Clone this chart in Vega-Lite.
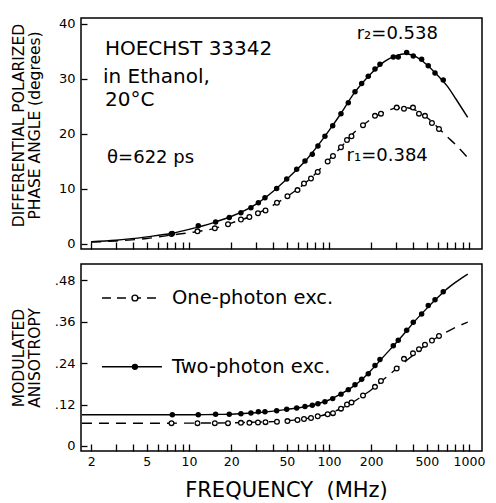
{
  "$schema": "https://vega.github.io/schema/vega-lite/v6.json",
  "background": "white",
  "padding": {"left": 10, "top": 17, "right": 6, "bottom": 2},
  "spacing": 11,
  "config": {
    "view": {"stroke": "black", "strokeWidth": 1.5},
    "font": "DejaVu Sans",
    "axis": {
      "grid": false,
      "domain": false,
      "offset": -7,
      "tickSize": 7,
      "tickColor": "black",
      "tickWidth": 1.3,
      "labelColor": "black",
      "titleColor": "black",
      "labelFont": "DejaVu Sans",
      "titleFont": "DejaVu Sans",
      "titleFontWeight": "normal",
      "labelOverlap": false
    }
  },
  "datasets": {
    "curves": [
      {"s": "two", "f": 1.72, "ph": null, "an": 0.0905},
      {"s": "two", "f": 2, "ph": 0.42, "an": 0.0905},
      {"s": "two", "f": 3, "ph": 0.68, "an": 0.0905},
      {"s": "two", "f": 5, "ph": 1.3, "an": 0.0903},
      {"s": "two", "f": 7.6, "ph": 1.95, "an": 0.0902},
      {"s": "two", "f": 10, "ph": 2.65, "an": 0.0902},
      {"s": "two", "f": 15, "ph": 3.9, "an": 0.0912},
      {"s": "two", "f": 20, "ph": 5.0, "an": 0.092},
      {"s": "two", "f": 30, "ph": 7.2, "an": 0.096},
      {"s": "two", "f": 40, "ph": 9.6, "an": 0.101},
      {"s": "two", "f": 50, "ph": 11.8, "an": 0.106},
      {"s": "two", "f": 70, "ph": 15.5, "an": 0.115},
      {"s": "two", "f": 100, "ph": 20.6, "an": 0.133},
      {"s": "two", "f": 120, "ph": 23.5, "an": 0.149},
      {"s": "two", "f": 150, "ph": 27.3, "an": 0.173},
      {"s": "two", "f": 175, "ph": 29.4, "an": 0.195},
      {"s": "two", "f": 200, "ph": 31.0, "an": 0.219},
      {"s": "two", "f": 250, "ph": 33.2, "an": 0.262},
      {"s": "two", "f": 300, "ph": 34.2, "an": 0.297},
      {"s": "two", "f": 350, "ph": 34.6, "an": 0.328},
      {"s": "two", "f": 400, "ph": 34.3, "an": 0.356},
      {"s": "two", "f": 500, "ph": 32.6, "an": 0.398},
      {"s": "two", "f": 600, "ph": 30.6, "an": 0.430},
      {"s": "two", "f": 700, "ph": 28.7, "an": 0.455},
      {"s": "two", "f": 800, "ph": 26.5, "an": 0.473},
      {"s": "two", "f": 980, "ph": 23.0, "an": 0.497},
      {"s": "one", "f": 1.72, "ph": null, "an": 0.0656},
      {"s": "one", "f": 2, "ph": 0.35, "an": 0.0656},
      {"s": "one", "f": 3, "ph": 0.55, "an": 0.0656},
      {"s": "one", "f": 5, "ph": 1.0, "an": 0.0658},
      {"s": "one", "f": 7.6, "ph": 1.65, "an": 0.066},
      {"s": "one", "f": 10, "ph": 2.05, "an": 0.0662},
      {"s": "one", "f": 15, "ph": 2.8, "an": 0.0665},
      {"s": "one", "f": 20, "ph": 3.8, "an": 0.067},
      {"s": "one", "f": 30, "ph": 5.4, "an": 0.069},
      {"s": "one", "f": 40, "ph": 7.05, "an": 0.0705},
      {"s": "one", "f": 50, "ph": 8.6, "an": 0.073},
      {"s": "one", "f": 70, "ph": 11.4, "an": 0.080},
      {"s": "one", "f": 100, "ph": 15.3, "an": 0.094},
      {"s": "one", "f": 120, "ph": 17.4, "an": 0.107},
      {"s": "one", "f": 150, "ph": 20.2, "an": 0.128},
      {"s": "one", "f": 175, "ph": 21.6, "an": 0.146},
      {"s": "one", "f": 200, "ph": 22.7, "an": 0.162},
      {"s": "one", "f": 250, "ph": 24.0, "an": 0.195},
      {"s": "one", "f": 300, "ph": 24.7, "an": 0.222},
      {"s": "one", "f": 350, "ph": 24.8, "an": 0.244},
      {"s": "one", "f": 400, "ph": 24.5, "an": 0.263},
      {"s": "one", "f": 500, "ph": 23.0, "an": 0.294},
      {"s": "one", "f": 600, "ph": 21.2, "an": 0.316},
      {"s": "one", "f": 700, "ph": 19.5, "an": 0.331},
      {"s": "one", "f": 800, "ph": 18.1, "an": 0.343},
      {"s": "one", "f": 980, "ph": 15.7, "an": 0.358}
    ],
    "pts": [
      {"s": "one", "f": 7.5, "ph": 1.8, "an": 0.066},
      {"s": "one", "f": 11.5, "ph": 2.3, "an": 0.066},
      {"s": "one", "f": 15.3, "ph": 2.85, "an": 0.066},
      {"s": "one", "f": 19, "ph": 3.6, "an": 0.066},
      {"s": "one", "f": 23.5, "ph": 4.45, "an": 0.067},
      {"s": "one", "f": 27, "ph": 4.9, "an": 0.067},
      {"s": "one", "f": 31.1, "ph": 5.6, "an": 0.068},
      {"s": "one", "f": 35.2, "ph": 6.1, "an": 0.069},
      {"s": "one", "f": 42.5, "ph": 7.5, "an": 0.070},
      {"s": "one", "f": 50.5, "ph": 8.7, "an": 0.072},
      {"s": "one", "f": 59.6, "ph": 9.8, "an": 0.075},
      {"s": "one", "f": 66.3, "ph": 11.0, "an": 0.078},
      {"s": "one", "f": 74.4, "ph": 11.9, "an": 0.081},
      {"s": "one", "f": 83.1, "ph": 13.1, "an": 0.086},
      {"s": "one", "f": 97.9, "ph": 15.0, "an": 0.092},
      {"s": "one", "f": 106.8, "ph": 16.0, "an": 0.095},
      {"s": "one", "f": 121.8, "ph": 17.6, "an": 0.108},
      {"s": "one", "f": 134.5, "ph": 18.9, "an": 0.120},
      {"s": "one", "f": 144.8, "ph": 19.6, "an": 0.126},
      {"s": "one", "f": 175, "ph": 21.6, "an": 0.146},
      {"s": "one", "f": 213.1, "ph": 23.3, "an": 0.171},
      {"s": "one", "f": 235.1, "ph": 23.7, "an": 0.188},
      {"s": "one", "f": 304.6, "ph": 24.8, "an": 0.224},
      {"s": "one", "f": 343.4, "ph": 24.6, "an": 0.252},
      {"s": "one", "f": 398.1, "ph": 24.8, "an": 0.268},
      {"s": "one", "f": 439.4, "ph": 23.7, "an": 0.280},
      {"s": "one", "f": 485, "ph": 23.3, "an": 0.293},
      {"s": "one", "f": 544, "ph": 22.0, "an": 0.305},
      {"s": "one", "f": 610.6, "ph": 20.9, "an": 0.318},
      {"s": "two", "f": 7.6, "ph": 1.9, "an": 0.0905},
      {"s": "two", "f": 11.65, "ph": 3.3, "an": 0.0905},
      {"s": "two", "f": 15.5, "ph": 4.0, "an": 0.0916},
      {"s": "two", "f": 19.4, "ph": 4.8, "an": 0.0916},
      {"s": "two", "f": 23.5, "ph": 5.7, "an": 0.0935},
      {"s": "two", "f": 27.7, "ph": 6.6, "an": 0.0954},
      {"s": "two", "f": 31.3, "ph": 7.5, "an": 0.099},
      {"s": "two", "f": 34.9, "ph": 8.4, "an": 0.099},
      {"s": "two", "f": 42.3, "ph": 10.1, "an": 0.102},
      {"s": "two", "f": 49.9, "ph": 11.8, "an": 0.106},
      {"s": "two", "f": 58.8, "ph": 13.6, "an": 0.110},
      {"s": "two", "f": 67.4, "ph": 15.1, "an": 0.114},
      {"s": "two", "f": 76.0, "ph": 16.3, "an": 0.118},
      {"s": "two", "f": 83.4, "ph": 17.8, "an": 0.122},
      {"s": "two", "f": 93.6, "ph": 19.6, "an": 0.128},
      {"s": "two", "f": 106.3, "ph": 21.5, "an": 0.137},
      {"s": "two", "f": 121.8, "ph": 23.7, "an": 0.150},
      {"s": "two", "f": 137.4, "ph": 25.7, "an": 0.163},
      {"s": "two", "f": 153.4, "ph": 27.7, "an": 0.177},
      {"s": "two", "f": 171.2, "ph": 29.2, "an": 0.193},
      {"s": "two", "f": 190.9, "ph": 30.5, "an": 0.209},
      {"s": "two", "f": 213.1, "ph": 31.8, "an": 0.233},
      {"s": "two", "f": 231.3, "ph": 32.7, "an": 0.250},
      {"s": "two", "f": 288, "ph": 34.0, "an": 0.290},
      {"s": "two", "f": 312.6, "ph": 34.0, "an": 0.306},
      {"s": "two", "f": 358.9, "ph": 34.8, "an": 0.335},
      {"s": "two", "f": 400, "ph": 34.2, "an": 0.358},
      {"s": "two", "f": 459, "ph": 33.6, "an": 0.382},
      {"s": "two", "f": 512, "ph": 32.4, "an": 0.406},
      {"s": "two", "f": 572, "ph": 31.1, "an": 0.423},
      {"s": "two", "f": 655, "ph": 29.8, "an": 0.446}
    ],
    "notesBig": [
      {"t": "HOECHST 33342", "f": 2.51, "ph": 35.45},
      {"t": "in Ethanol,", "f": 2.43, "ph": 30.45},
      {"t": "20°C", "f": 2.51, "ph": 26.2}
    ],
    "notesMid": [
      {"t": "θ=622 ps", "f": 2.6, "ph": 15.6},
      {"t": "r₂=0.538", "f": 157.8, "ph": 38.2},
      {"t": "r₁=0.384", "f": 133.6, "ph": 16.0}
    ],
    "legText": [
      {"t": "One-photon exc.", "f": 7.56, "an": 0.428},
      {"t": "Two-photon exc.", "f": 7.56, "an": 0.229}
    ],
    "legLine": [
      {"s": "one", "f": 2.39, "an": 0.428},
      {"s": "one", "f": 6.41, "an": 0.428},
      {"s": "two", "f": 2.39, "an": 0.229},
      {"s": "two", "f": 6.41, "an": 0.229}
    ],
    "legPt": [
      {"s": "one", "f": 4.11, "an": 0.428},
      {"s": "two", "f": 4.11, "an": 0.229}
    ]
  },
  "vconcat": [
    {
      "width": 401,
      "height": 231,
      "encoding": {
        "x": {
          "field": "f", "type": "quantitative",
          "scale": {"type": "log", "domain": [1.693, 1239], "nice": false},
          "axis": {
            "values": [2,3,4,5,6,7,8,9,10,20,30,40,50,60,70,80,90,100,200,300,400,500,600,700,800,900,1000],
            "labels": false, "title": null
          }
        },
        "y": {
          "field": "ph", "type": "quantitative",
          "scale": {"domain": [-0.91, 41.09], "nice": false, "zero": false},
          "axis": {
            "values": [0, 10, 20, 30, 40], "tickSize": 6, "offset": -6,
            "labelFontSize": 13, "labelPadding": 6,
            "title": ["DIFFERENTIAL POLARIZED", "PHASE ANGLE (degrees)"],
            "titleFontSize": 15.5, "titleLineHeight": 16, "titleX": -61, "titleY": 107
          }
        }
      },
      "layer": [
        {
          "data": {"name": "curves"},
          "transform": [{"filter": "datum.s == 'one' && isValid(datum.ph)"}],
          "mark": {"type": "line", "color": "black", "strokeWidth": 1.4, "strokeDash": [10, 7], "interpolate": "monotone"}
        },
        {
          "data": {"name": "curves"},
          "transform": [{"filter": "datum.s == 'two' && isValid(datum.ph)"}],
          "mark": {"type": "line", "color": "black", "strokeWidth": 1.4, "interpolate": "monotone"}
        },
        {
          "data": {"name": "pts"},
          "transform": [{"filter": "datum.s == 'one'"}],
          "mark": {"type": "point", "filled": true, "fill": "white", "stroke": "black", "strokeWidth": 1.3, "size": 22, "opacity": 1}
        },
        {
          "data": {"name": "pts"},
          "transform": [{"filter": "datum.s == 'two'"}],
          "mark": {"type": "point", "filled": true, "color": "black", "size": 30, "opacity": 1}
        },
        {
          "data": {"name": "notesBig"},
          "mark": {"type": "text", "align": "left", "baseline": "middle", "fontSize": 20, "font": "DejaVu Sans", "color": "black"},
          "encoding": {"text": {"field": "t"}}
        },
        {
          "data": {"name": "notesMid"},
          "mark": {"type": "text", "align": "left", "baseline": "middle", "fontSize": 18, "font": "DejaVu Sans", "color": "black"},
          "encoding": {"text": {"field": "t"}}
        }
      ]
    },
    {
      "width": 401,
      "height": 187,
      "encoding": {
        "x": {
          "field": "f", "type": "quantitative",
          "scale": {"type": "log", "domain": [1.693, 1239], "nice": false},
          "axis": {
            "values": [2,3,4,5,6,7,8,9,10,20,30,40,50,60,70,80,90,100,200,300,400,500,600,700,800,900,1000],
            "labelFontSize": 12.5, "labelPadding": 4, "labelFlush": false,
            "labelExpr": "indexof([2,5,10,20,50,100,200,500,1000], datum.value) >= 0 ? format(datum.value, 'd') : ''",
            "title": "FREQUENCY\u00a0\u00a0(MHz)", "titleFontSize": 21, "titlePadding": 12, "titleX": 205
          }
        },
        "y": {
          "field": "an", "type": "quantitative",
          "scale": {"domain": [-0.01446, 0.5263], "nice": false, "zero": false},
          "axis": {
            "values": [0, 0.12, 0.24, 0.36, 0.48], "tickSize": 6, "offset": -6,
            "labelFontSize": 13, "labelPadding": 6,
            "labelExpr": "datum.value == 0 ? '0' : replace(format(datum.value, '.2f'), '0.', '.')",
            "title": ["MODULATED", "ANISOTROPY"],
            "titleFontSize": 15.5, "titleLineHeight": 16, "titleX": -61
          }
        }
      },
      "layer": [
        {
          "data": {"name": "curves"},
          "transform": [{"filter": "datum.s == 'one'"}],
          "mark": {"type": "line", "color": "black", "strokeWidth": 1.4, "strokeDash": [10, 7], "interpolate": "monotone"}
        },
        {
          "data": {"name": "curves"},
          "transform": [{"filter": "datum.s == 'two'"}],
          "mark": {"type": "line", "color": "black", "strokeWidth": 1.4, "interpolate": "monotone"}
        },
        {
          "data": {"name": "legLine"},
          "transform": [{"filter": "datum.s == 'one'"}],
          "mark": {"type": "line", "color": "black", "strokeWidth": 1.4, "strokeDash": [9, 6]}
        },
        {
          "data": {"name": "legLine"},
          "transform": [{"filter": "datum.s == 'two'"}],
          "mark": {"type": "line", "color": "black", "strokeWidth": 1.6}
        },
        {
          "data": {"name": "pts"},
          "transform": [{"filter": "datum.s == 'one'"}],
          "mark": {"type": "point", "filled": true, "fill": "white", "stroke": "black", "strokeWidth": 1.3, "size": 22, "opacity": 1}
        },
        {
          "data": {"name": "pts"},
          "transform": [{"filter": "datum.s == 'two'"}],
          "mark": {"type": "point", "filled": true, "color": "black", "size": 30, "opacity": 1}
        },
        {
          "data": {"name": "legPt"},
          "transform": [{"filter": "datum.s == 'one'"}],
          "mark": {"type": "point", "filled": true, "fill": "white", "stroke": "black", "strokeWidth": 1.4, "size": 34, "opacity": 1}
        },
        {
          "data": {"name": "legPt"},
          "transform": [{"filter": "datum.s == 'two'"}],
          "mark": {"type": "point", "filled": true, "color": "black", "size": 40, "opacity": 1}
        },
        {
          "data": {"name": "legText"},
          "mark": {"type": "text", "align": "left", "baseline": "middle", "fontSize": 19.5, "font": "DejaVu Sans", "color": "black"},
          "encoding": {"text": {"field": "t"}}
        }
      ]
    }
  ]
}
